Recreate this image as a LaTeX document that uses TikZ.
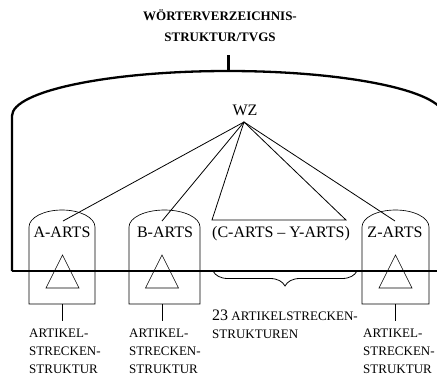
\documentclass[tikz,border=0pt]{standalone}
\usepackage{fontspec}
\setmainfont{Liberation Serif}
\usetikzlibrary{decorations.pathreplacing}
\tikzset{
  thickline/.style={line width=2.3pt},
  thinline/.style={line width=0.8pt},
  boxline/.style={line width=0.65pt},
  bigtext/.style={inner sep=0pt, anchor=base, font=\fontsize{16}{19}\selectfont},
  smalllabel/.style={inner sep=0pt, anchor=north west, align=left, font=\fontsize{13}{18}\selectfont},
  titletext/.style={inner sep=0pt, anchor=base, font=\fontsize{13}{16}\selectfont\bfseries},
}
\newcommand{\artsbox}[5]{% cx, left, right, triangle apex x, name
  \draw[boxline] (#2,-304) -- (#2,-227) arc[start angle=180, end angle=0, x radius={(#3-#2)/2}, y radius=17] -- (#3,-304) -- cycle;
  \draw[boxline] (#4,-255) -- (#4-16.5,-288) -- (#4+16.5,-288) -- cycle;
  \coordinate (#5bot) at (#4,-304);
  \coordinate (#5end) at (#4,-321);
  \draw[boxline] (#5bot) -- (#5end);
}
\begin{document}
\begin{tikzpicture}[x=1pt,y=1pt]
\useasboundingbox (0,0) rectangle (437,-376);
\clip (0,0) rectangle (437,-376);
% title
\node[titletext] (title1) at (220,-20.5) {WÖRTERVERZEICHNIS-};
\node[titletext] (title2) at (220,-41.7) {STRUKTUR/TVGS};
\coordinate (stemtop) at (228.5,-55);
\coordinate (stembot) at (228.5,-72);
\draw[thickline] (stemtop) -- (stembot);
% big arc
\coordinate (arcleft) at (12,-116);
\coordinate (baseleft) at (12,-271);
\coordinate (baseright) at (440,-271);
\draw[thickline] (baseleft) -- (arcleft) arc[start angle=180, end angle=5, x radius=216, y radius=45];
% boxes
\artsbox{62}{29}{95}{62.5}{a}
\artsbox{164.5}{129}{200}{162}{b}
\artsbox{395.5}{362}{429}{395.5}{z}
% horizontal thick line
\draw[thickline] (baseleft) -- (baseright);
% WZ
\node[bigtext] (wz) at (245,-115) {WZ};
\coordinate (wzb) at (244,-122);
\coordinate (aend) at (63,-221);
\coordinate (bend) at (162,-221);
\coordinate (zend) at (395,-221);
\coordinate (tl) at (212,-220);
\coordinate (tr) at (346,-220);
\draw[thinline] (wzb) -- (aend);
\draw[thinline] (wzb) -- (bend);
\draw[thinline] (wzb) -- (zend);
\draw[thinline] (tl) -- (wzb) -- (tr) -- cycle;
% box texts
\node[bigtext] (aarts) at (62,-237) {A-ARTS};
\node[bigtext] (barts) at (165,-237) {B-ARTS};
\node[bigtext] (cyarts) at (281,-237) {(C-ARTS – Y-ARTS)};
\node[bigtext] (zarts) at (395,-237) {Z-ARTS};
% brace
\coordinate (brl) at (213,-271);
\coordinate (brr) at (357,-271);
\draw[thinline, decorate, decoration={brace, mirror, amplitude=15pt}] (brl) -- (brr);
% labels
\node[smalllabel] (alabel) at (29,-329) {ARTIKEL-\\STRECKEN-\\STRUKTUR};
\node[smalllabel] (blabel) at (129,-329) {ARTIKEL-\\STRECKEN-\\STRUKTUR};
\node[smalllabel] (zlabel) at (363,-329) {ARTIKEL-\\STRECKEN-\\STRUKTUR};
\node[smalllabel] (clabel) at (212,-309.5) {{\fontsize{16}{18}\selectfont 23} ARTIKELSTRECKEN-\\STRUKTUREN};
\end{tikzpicture}
\end{document}
